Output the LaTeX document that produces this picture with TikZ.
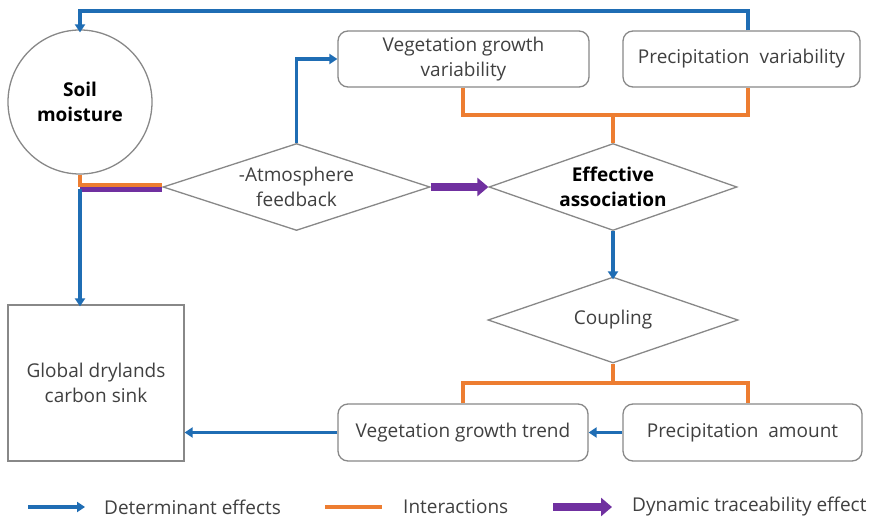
\documentclass[tikz,border=0pt]{standalone}
\usepackage{fontspec}
\setmainfont{Open Sans}
\usetikzlibrary{shapes.geometric,arrows.meta}
\definecolor{cblue}{HTML}{1F6DB4}
\definecolor{corange}{HTML}{ED7D31}
\definecolor{cpurple}{HTML}{7030A0}
\definecolor{cgray}{HTML}{888888}
\definecolor{ctext}{HTML}{404040}
\begin{document}
\begin{tikzpicture}[x=1pt,y=-1pt,
  every node/.style={font=\fontsize{19}{24.5}\selectfont, text=ctext, align=center},
  rbox/.style={draw=cgray, line width=1.3pt, rounded corners=10pt, fill=white, inner sep=0pt},
  sqbox/.style={draw=cgray, line width=1.3pt, fill=white, inner sep=0pt},
  dia/.style={draw=cgray, line width=1.3pt, diamond, aspect=3, fill=white, inner sep=0pt},
  det/.style={draw=cblue, line width=3.2pt, -{Triangle[width=10pt,length=8pt]}},
  inter/.style={draw=corange, line width=3.2pt},
  dyn/.style={draw=cpurple, line width=8pt, -{Triangle[width=18pt,length=11pt]}},
  dynline/.style={draw=cpurple, line width=8pt},
  legtext/.style={anchor=west, inner sep=0pt}
]
\useasboundingbox (0,0) rectangle (874,521);
\fill[white] (0,0) rectangle (874,521);

% nodes
\node[circle, draw=cgray, line width=1.3pt, fill=white, minimum size=144pt, inner sep=0pt, text=black, font=\fontsize{19}{25}\selectfont\bfseries] (soil) at (80,102) {Soil\\moisture};
\node[dia, minimum width=267pt, minimum height=87pt] (atm) at (296.5,187) {-Atmosphere\\feedback};
\node[dia, minimum width=248pt, minimum height=87pt, text=black, font=\fontsize{19}{25}\selectfont\bfseries] (ea) at (613,187) {Effective\\association};
\node[dia, minimum width=250pt, minimum height=86pt] (coup) at (613,320) {Coupling};
\node[rbox, minimum width=251pt, minimum height=56pt] (vgv) at (463.5,59) {Vegetation growth\\variability};
\node[rbox, minimum width=237pt, minimum height=56pt] (pv) at (741.5,59) {Precipitation\ \ variability};
\node[rbox, minimum width=250pt, minimum height=57pt] (vgt) at (463,432.5) {Vegetation growth trend};
\node[rbox, minimum width=239pt, minimum height=57pt] (pa) at (742.5,432.5) {Precipitation\ \ amount};
\node[sqbox, minimum width=176pt, minimum height=156pt] (glob) at (96,383) {Global drylands\\carbon sink};

% top feedback line
\coordinate (tr) at (748,11);
\coordinate (tl) at (80,11);
\draw[det] (tr |- pv.north) -- (tr) -- (tl) -- ([yshift=-3pt]soil.north);

% atmosphere to vegetation growth variability
\draw[det] (atm.north) |- (vgv.west);

% interactions top
\coordinate (oa) at (463,115);
\coordinate (ob) at (748,115);
\draw[inter] (oa |- vgv.south) -- (oa) -- (ob) -- (ob |- pv.south);
\draw[inter] (ea.north |- oa) -- (ea.north);

% effective association to coupling
\draw[det] (ea.south) -- ([yshift=-3pt]coup.north);

% interactions bottom
\coordinate (oc) at (463,383);
\coordinate (od) at (748,383);
\draw[inter] (coup.south) -- (coup.south |- oc);
\draw[inter] (oc |- vgt.north) -- (oc) -- (od) -- (od |- pa.north);

% bottom arrows
\draw[det] (pa.west) -- (vgt.east);
\draw[det] (vgt.west) -- (vgt.west -| glob.east);

% soil moisture outputs
\coordinate (sj) at (80,188);
\coordinate (so) at (80,185);
\draw[dynline] (sj) -- (sj -| atm.west);
\draw[inter] (soil.south) -- (so) -- (so -| atm.west);
\draw[det] ([yshift=-1pt]sj) -- ([yshift=-2pt]sj |- glob.north);

% dynamic traceability arrow
\draw[dyn] (atm.east) -- (ea.west);

% legend
\coordinate (l1a) at (28,507); \coordinate (l1b) at (85,507);
\coordinate (l2a) at (325,507); \coordinate (l2b) at (382,507);
\coordinate (l3a) at (553,507); \coordinate (l3b) at (612,507);
\draw[det] (l1a) -- (l1b);
\node[legtext] (t1) at (104,507) {Determinant effects};
\draw[inter] (l2a) -- (l2b);
\node[legtext] (t2) at (403,507) {Interactions};
\draw[dyn] (l3a) -- (l3b);
\node[legtext] (t3) at (632,507) {Dynamic traceability effect};
\end{tikzpicture}
\end{document}
